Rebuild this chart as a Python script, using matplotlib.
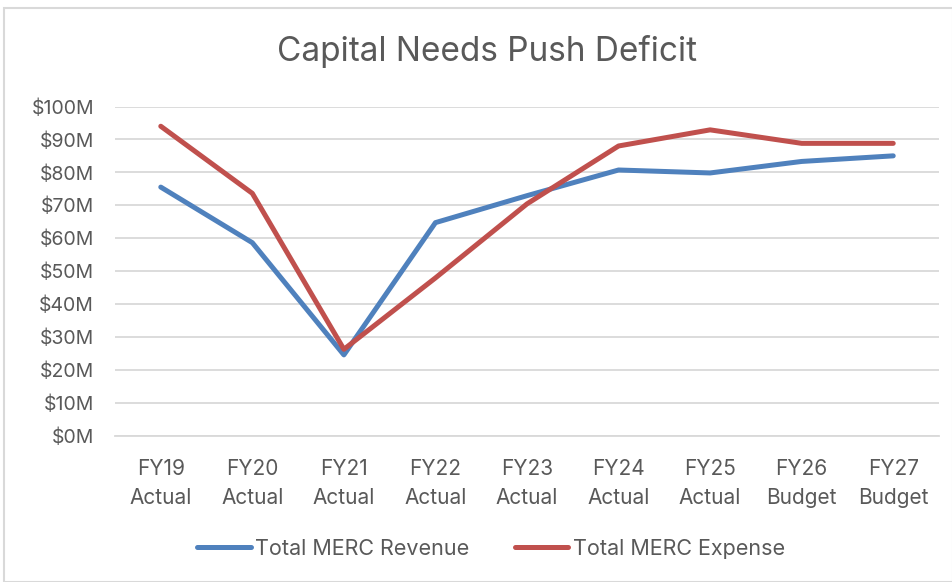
import matplotlib
matplotlib.use("Agg")
import matplotlib.pyplot as plt
from matplotlib.patches import Rectangle
from matplotlib.ticker import FuncFormatter

categories = ["FY19\nActual", "FY20\nActual", "FY21\nActual", "FY22\nActual", "FY23\nActual",
              "FY24\nActual", "FY25\nActual", "FY26\nBudget", "FY27\nBudget"]
revenue = [75.5, 58.6, 24.5, 64.7, 72.9, 80.7, 79.8, 83.3, 85.0]
expense = [94.0, 73.6, 26.2, 47.9, 70.4, 88.0, 92.9, 88.8, 88.8]
yticks = list(range(0, 101, 10))

plt.rcParams['font.family'] = ['Inter', 'DejaVu Sans']
TXT = '#595959'

fig = plt.figure(figsize=(9.53, 5.82), dpi=100)
W, H = 953, 582
ax = fig.add_axes([115 / W, 1 - 435.5 / H, (939 - 115) / W, (435.5 - 106.5) / H])

x = list(range(len(categories)))
ax.plot(x, revenue, color='#4F81BD', lw=3.6, solid_capstyle='round', solid_joinstyle='round',
        label='Total MERC Revenue')
ax.plot(x, expense, color='#C0504D', lw=3.6, solid_capstyle='round', solid_joinstyle='round',
        label='Total MERC Expense')

ax.set_xlim(-0.5, len(categories) - 0.5)
ax.set_ylim(0, 100)
ax.set_yticks(yticks)
ax.yaxis.set_major_formatter(FuncFormatter(lambda v, p: f"${int(v)}M"))
ax.set_xticks(x)
ax.set_xticklabels(categories, linespacing=1.55)
ax.grid(axis='y', color='#D9D9D9', lw=1.3)
ax.set_axisbelow(True)
for s in ['top', 'right', 'left']:
    ax.spines[s].set_visible(False)
ax.spines['bottom'].set_color('#D9D9D9')
ax.spines['bottom'].set_linewidth(1.3)
ax.tick_params(length=0, colors=TXT)
ax.tick_params(axis='x', pad=17, labelsize=15)
ax.tick_params(axis='y', pad=15, labelsize=14)

fig.text(487 / W, 1 - 52 / H, "Capital Needs Push Deficit", ha='center', va='center',
         fontsize=24, color=TXT)

leg = fig.legend(loc='center', bbox_to_anchor=(491 / W, 1 - 549 / H), ncol=2, frameon=False,
                 fontsize=15.5, handlelength=2.5, handletextpad=0.2, columnspacing=2.1)
for t in leg.get_texts():
    t.set_color(TXT)

fig.patches.append(Rectangle((4 / W, 0), (953 - 4) / W, 1 - 8 / H, transform=fig.transFigure,
                             fill=False, edgecolor='#D9D9D9', lw=1.5))

fig.savefig('out.png', dpi=100)
